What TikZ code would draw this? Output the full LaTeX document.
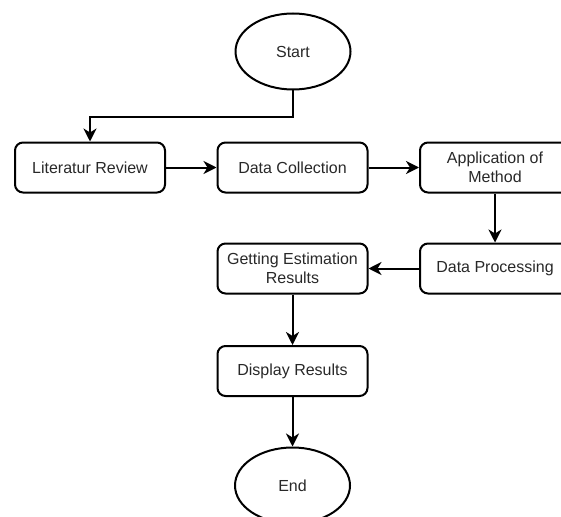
\documentclass[tikz,border=0pt]{standalone}
\usepackage{fontspec}
\setmainfont{Liberation Sans}
\usepackage{xcolor}
\usetikzlibrary{arrows.meta}
\usetikzlibrary{shapes.geometric}
\definecolor{txtgray}{RGB}{40,40,40}

\begin{document}
\begin{tikzpicture}[x=1pt, y=-1pt,
  box/.style={draw, line width=2, rounded corners=8, minimum width=150, minimum height=50,
    align=center, inner sep=0, text=txtgray, font=\fontsize{16}{18.5}\selectfont},
  term/.style={draw, ellipse, line width=2, minimum width=115, minimum height=76,
    inner sep=0, text=txtgray, font=\fontsize{16}{18.5}\selectfont},
  arr/.style={line width=2, -{Stealth[length=13, width=13, inset=4]}}]
\clip (0,0) rectangle (561,516);

% terminals
\node[term] (start) at (293,51.5) {Start};
\node[term] (end) at (292.5,485.5) {End};

% process steps
\node[box] (lit) at (90,167.5) {Literatur Review};
\node[box] (coll) at (292.5,167.5) {Data Collection};
\node[box] (app) at (495,167.5) {Application of\\Method};
\node[box] (proc) at (495,268.5) {Data Processing};
\node[box] (getr) at (292.5,268.5) {Getting Estimation\\Results};
\node[box] (disp) at (292.5,371) {Display Results};

\draw[arr] (start.south) -- ++(0,26.5) -| (lit.north);
\draw[arr] (lit.east) -- (coll.west);
\draw[arr] (coll.east) -- (app.west);
\draw[arr] (app.south) -- (proc.north);
\draw[arr] (proc.west) -- (getr.east);
\draw[arr] (getr.south) -- (disp.north);
\draw[arr] (disp.south) -- (end.north);

\end{tikzpicture}
\end{document}
